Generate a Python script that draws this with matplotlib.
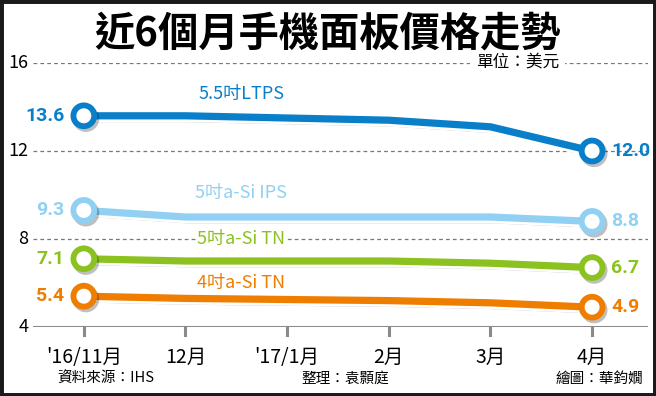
import numpy as np
import matplotlib.pyplot as plt
import matplotlib.patheffects as pe
from matplotlib.patches import Rectangle

months = ["'16/11月", "12月", "'17/1月", "2月", "3月", "4月"]
ltps55 = [13.6, 13.6, 13.5, 13.4, 13.1, 12.0]
ips5 = [9.3, 9.0, 9.0, 9.0, 9.0, 8.8]
tn5 = [7.1, 7.0, 7.0, 7.0, 6.9, 6.7]
tn4 = [5.4, 5.3, 5.25, 5.2, 5.1, 4.9]
names = ["5.5吋LTPS", "5吋a-Si IPS", "5吋a-Si TN", "4吋a-Si TN"]
colors = ["#0a7fc9", "#92d0f3", "#8cc21f", "#ee7d00"]
name_y = [14.6, 10.1, 8.0, 6.0]

plt.rcParams['font.family'] = ['Noto Sans CJK TC', 'DejaVu Sans']

fig = plt.figure(figsize=(6.56, 3.96), dpi=100)
fig.patches.append(Rectangle((0, 0), 1, 1, transform=fig.transFigure,
                             fill=False, edgecolor='#1a1a1a', linewidth=5))

# data x: 0 -> 84px, 5 -> 592px
ax = fig.add_axes([33/656, 1-327/396, 615/656, 264/396])
ax.set_xlim(-0.50, 5.55)
ax.set_ylim(4, 16)
for s in ax.spines.values():
    s.set_visible(False)
ax.set_yticks([])
ax.set_xticks([])

for v in [8, 12, 16]:
    ax.axhline(v, color='#777777', lw=0.9, ls=(0, (3, 2.5)), zorder=1)
ax.axhline(4, color='#8a8a8a', lw=2.2, zorder=1)
for i in range(len(months)):
    ax.plot([i, i], [4, 3.62], color='#8a8a8a', lw=2.2, clip_on=False, zorder=1)
    ax.text(i, 2.62, months[i], ha='center', va='center', fontsize=14)

for v in [4, 8, 12, 16]:
    ax.text(-0.545, v, str(v), ha='right', va='center', fontsize=13)

x = np.arange(len(months))
series = [ltps55, ips5, tn5, tn4]
num_font = dict(fontsize=14, fontweight='bold', family=['Roboto', 'DejaVu Sans'])
for data, name, c, ny in zip(series, names, colors, name_y):
    ax.plot(x, data, color=c, lw=5.2, solid_capstyle='round', zorder=3,
            path_effects=[pe.SimpleLineShadow(offset=(1.5, -2), alpha=0.25, shadow_color='black'),
                          pe.Stroke(linewidth=9, foreground='white'), pe.Normal()])
    ax.plot([x[0], x[-1]], [data[0], data[-1]], 'o', ms=15, mfc='white', mec=c, mew=4.2,
            zorder=4, clip_on=False,
            path_effects=[pe.SimpleLineShadow(offset=(1.5, -2), alpha=0.25, shadow_color='black'),
                          pe.Stroke(linewidth=3, foreground='white'), pe.Normal()])
    ax.text(-0.19, data[0], f"{data[0]:.1f}", ha='right', va='center', color=c, **num_font)
    ax.text(5.19, data[-1], f"{data[-1]:.1f}", ha='left', va='center', color=c, **num_font)
    ax.text(1.55, ny, name, ha='center', va='center', color=c, fontsize=13, zorder=5,
            bbox=dict(boxstyle='square,pad=0.1', fc='white', ec='none'))

ax.text(4.27, 16, "單位：美元", ha='center', va='center', fontsize=12, zorder=5,
        bbox=dict(boxstyle='square,pad=0.35', fc='white', ec='none'))

fig.text(0.5, 0.915, "近6個月手機面板價格走勢", ha='center', va='center',
         fontsize=29, fontweight='heavy')
fig.text(57/656, 1-379/396, "資料來源：IHS", ha='left', va='center', fontsize=10.5)
fig.text(345/656, 1-379/396, "整理：袁顥庭", ha='center', va='center', fontsize=10.5)
fig.text(643/656, 1-379/396, "繪圖：華鈞嫺", ha='right', va='center', fontsize=10.5)

fig.savefig("out.png", dpi=100)
